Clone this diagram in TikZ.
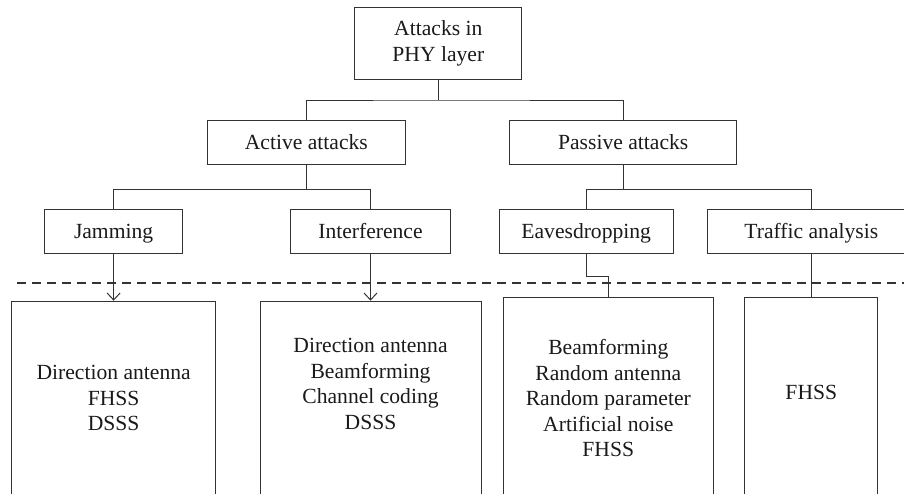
\documentclass[tikz,border=0pt]{standalone}
\usepackage{fontspec}
\setmainfont{Liberation Serif}
\usetikzlibrary{arrows.meta}
\definecolor{linecol}{HTML}{333333}
\definecolor{txtcol}{HTML}{1A1A1A}
\begin{document}
\begin{tikzpicture}[x=1pt,y=-1pt,
  every node/.style={font=\fontsize{21.6}{25.5}\selectfont, align=center, inner sep=0pt, text=txtcol},
  box/.style={draw=linecol, line width=1pt, minimum height=44.3pt, text height=16pt, text depth=2pt},
  topbox/.style={draw=linecol, line width=1pt, minimum width=166.7pt, minimum height=72pt},
  openbox/.style={draw=linecol, line width=1pt, anchor=north, minimum height=240pt},
  conn/.style={draw=linecol, line width=1pt},
  arr/.style={conn, -{Straight Barb[length=7pt,width=13pt,line width=1pt]}},
  sep/.style={draw=linecol, line width=1.1pt, dash pattern=on 9pt off 6pt}]
\useasboundingbox (0,0) rectangle (904,493);
\clip (0,0) rectangle (904,493);

% level 1
\node[topbox] (top) at (438.3,43.5) {Attacks in\\PHY layer};
% level 2
\node[box, minimum width=198pt] (act) at (306.3,142.8) {Active attacks};
\node[box, minimum width=227pt] (pas) at (623.2,142.8) {Passive attacks};
% level 3
\node[box, minimum width=138.4pt] (jam) at (113.6,231.2) {Jamming};
\node[box, minimum width=160.7pt] (int) at (370.5,231.2) {Interference};
\node[box, minimum width=174.3pt] (eav) at (586.2,231.2) {Eavesdropping};
\node[box, minimum width=208pt] (tra) at (811.3,231.2) {Traffic analysis};

% separator
\draw[sep] (17.3,283) -- (904,283);

% bottom boxes (open at the bottom edge)
\node[openbox, minimum width=204pt] (b1) at (113.6,300.7) {};
\node[openbox, minimum width=221pt] (b2) at (370.5,300.7) {};
\node[openbox, minimum width=210pt] (b3) at (608.3,297.3) {};
\node[openbox, minimum width=132.7pt] (b4) at (811.3,297.3) {};

\node (t1) at (113.6,398) {Direction antenna\\FHSS\\DSSS};
\node (t2) at (370.5,384) {Direction antenna\\Beamforming\\Channel coding\\DSSS};
\node (t3) at (608.3,398) {Beamforming\\Random antenna\\Random parameter\\Artificial noise\\FHSS};
\node (t4) at (811.3,392) {FHSS};

% connectors
\draw[conn] (top.south) -- (438.3,100) coordinate (j1);
\draw[conn] (act.north) |- (j1) -| (pas.north);
\draw[conn] (act.south) -- ++(0,23.7) coordinate (j2);
\draw[conn] (jam.north) |- (j2) -| (int.north);
\draw[conn] (pas.south) -- ++(0,23.7) coordinate (j3);
\draw[conn] (eav.north) |- (j3) -| (tra.north);

\draw[arr] (jam.south) -- (b1.north);
\draw[arr] (int.south) -- (b2.north);
\draw[conn] (eav.south) -- ++(0,22.7) -| (b3.north);
\draw[conn] (tra.south) -- (b4.north);
\end{tikzpicture}
\end{document}
